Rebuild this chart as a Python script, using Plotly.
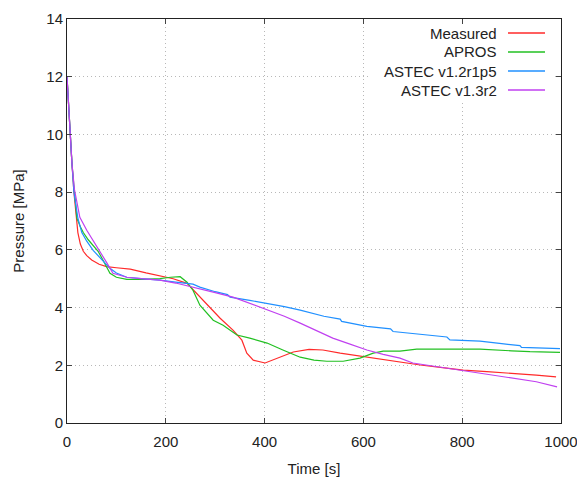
import plotly.graph_objects as go

# ---- data ----
t_measured = [0, 3, 6, 10, 14, 18, 22, 27, 33, 40, 50, 65, 80, 100, 128, 160, 190, 215, 243,
              269, 290, 310, 336, 354, 364, 377, 401, 425, 458, 490, 518, 553, 607, 674, 715,
              760, 802, 850, 903, 950, 990]
p_measured = [12.0, 11.0, 10.0, 9.0, 8.0, 7.2, 6.6, 6.2, 5.95, 5.8, 5.65, 5.5, 5.42, 5.38, 5.33,
              5.2, 5.1, 5.0, 4.84, 4.36, 4.0, 3.63, 3.22, 2.87, 2.42, 2.18, 2.08, 2.25, 2.46,
              2.55, 2.53, 2.42, 2.28, 2.11, 2.01, 1.92, 1.83, 1.78, 1.73, 1.66, 1.6]

t_apros = [0, 3, 6, 10, 14, 20, 27, 33, 43, 53, 63, 73, 80, 87, 100, 121, 154, 188, 210, 229,
           243, 255, 269, 296, 316, 344, 370, 405, 437, 472, 500, 526, 559, 593, 620, 640, 674,
           708, 760, 836, 900, 937, 998]
p_apros = [12.0, 11.0, 10.0, 9.0, 8.2, 7.1, 6.8, 6.6, 6.35, 6.16, 5.95, 5.64, 5.4, 5.19, 5.05,
           4.98, 4.98, 5.0, 5.05, 5.07, 4.88, 4.6, 4.08, 3.56, 3.39, 3.05, 2.94, 2.77, 2.53,
           2.28, 2.18, 2.14, 2.14, 2.25, 2.42, 2.49, 2.49, 2.56, 2.56, 2.56, 2.5, 2.47, 2.45]

t_astec12 = [0, 3, 6, 10, 14, 22, 30, 40, 53, 63, 73, 87, 100, 121, 150, 188, 220, 255, 269,
             300, 325, 330, 370, 405, 440, 472, 520, 553, 556, 607, 655, 660, 700, 769, 775,
             836, 880, 917, 920, 960, 998]
p_astec12 = [12.0, 11.0, 10.0, 9.0, 8.0, 7.1, 6.6, 6.3, 5.98, 5.8, 5.64, 5.36, 5.2, 5.05, 5.0,
             4.95, 4.88, 4.81, 4.71, 4.55, 4.45, 4.36, 4.25, 4.15, 4.03, 3.91, 3.7, 3.6, 3.52,
             3.35, 3.26, 3.17, 3.1, 2.98, 2.88, 2.84, 2.75, 2.68, 2.62, 2.6, 2.58]

t_astec13 = [0, 3, 6, 10, 15, 26, 40, 53, 67, 81, 93, 110, 121, 150, 188, 220, 255, 269, 300,
             336, 370, 405, 440, 472, 505, 538, 570, 607, 640, 674, 700, 750, 802, 850, 903,
             950, 992]
p_astec13 = [12.0, 11.0, 10.0, 9.0, 8.1, 7.13, 6.68, 6.33, 5.92, 5.54, 5.19, 5.1, 5.05, 5.0,
             4.95, 4.85, 4.71, 4.67, 4.52, 4.36, 4.15, 3.91, 3.7, 3.46, 3.2, 2.94, 2.75, 2.53,
             2.38, 2.25, 2.08, 1.95, 1.8, 1.68, 1.56, 1.43, 1.25]

series_names = ["Measured", "APROS", "ASTEC v1.2r1p5", "ASTEC v1.3r2"]
series_colors = ["#ff2a2a", "#22c022", "#2090ff", "#c040f0"]
x_ticks = [0, 200, 400, 600, 800, 1000]
y_ticks = [0, 2, 4, 6, 8, 10, 12, 14]

series = [(t_measured, p_measured), (t_apros, p_apros),
          (t_astec12, p_astec12), (t_astec13, p_astec13)]

fig = go.Figure()
for (t, p), name, color in zip(series, series_names, series_colors):
    fig.add_trace(go.Scatter(x=t, y=p, mode="lines", name=name, showlegend=False,
                             line=dict(color=color, width=1.2)))

font = dict(family="Liberation Sans, Arial, sans-serif", size=15, color="#222222")

axis_common = dict(showline=True, linecolor="#222222", linewidth=1, mirror="ticks",
                   ticks="inside", ticklen=5, tickcolor="#444444",
                   showgrid=True, gridcolor="#b8b8b8", griddash="1px,3px", gridwidth=1,
                   zeroline=False, tickfont=font, automargin=False,
                   ticklabeloverflow="allow")

fig.update_layout(
    width=577, height=477,
    margin=dict(l=67, r=16, t=19, b=54, autoexpand=False),
    paper_bgcolor="white", plot_bgcolor="white",
    font=font,
    xaxis=dict(range=[0, 1000], tickvals=x_ticks, ticklabelstandoff=5,
               title=dict(text="Time [s]", font=font, standoff=20),
               **axis_common),
    yaxis=dict(range=[0, 14], tickvals=y_ticks,
               title=dict(text="Pressure [MPa]", font=font, standoff=18),
               **axis_common),
)

# custom legend (text right-aligned, line sample on the right), like gnuplot
shapes = [dict(type="rect", xref="paper", yref="paper",
               x0=(370 - 67) / 494, x1=(553 - 67) / 494,
               y0=(423 - 100) / 404, y1=(423 - 25) / 404,
               fillcolor="white", line=dict(width=0), layer="above")]
annotations = []
for i, (name, color) in enumerate(zip(series_names, series_colors)):
    ypx = 33 + 19 * i
    yp = (423 - ypx) / 404
    shapes.append(dict(type="line", xref="paper", yref="paper",
                       x0=(508 - 67) / 494, x1=(545 - 67) / 494, y0=yp, y1=yp,
                       line=dict(color=color, width=1.5), layer="above"))
    annotations.append(dict(xref="paper", yref="paper", x=(499 - 67) / 494, y=yp,
                            xanchor="right", yanchor="middle", text=name, showarrow=False,
                            font=font))
fig.update_layout(shapes=shapes, annotations=annotations)

fig.write_html("out.html", config={"displayModeBar": False},
               post_script="document.body.style.margin='0';")
